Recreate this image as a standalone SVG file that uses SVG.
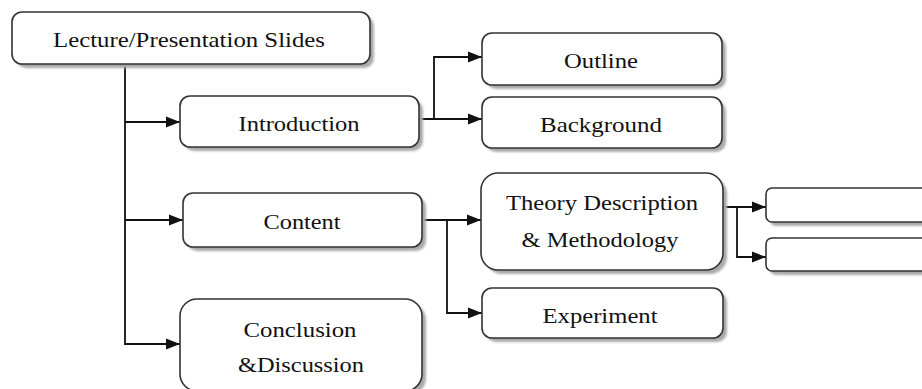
<svg xmlns="http://www.w3.org/2000/svg" width="922" height="389" viewBox="0 0 922 389">
<style>
.box{fill:#fff;stroke:#333;stroke-width:1.6}
.sh{fill:#aaa}
.t{font-family:"Liberation Serif","Times New Roman",serif;font-size:21px;fill:#111;text-anchor:middle}
.c{fill:none;stroke:#111;stroke-width:1.8}
</style>
<defs>
<marker id="ah" markerUnits="userSpaceOnUse" markerWidth="15" markerHeight="13" refX="14" refY="6.5" orient="auto">
<path d="M0,1 L14,6.5 L0,12 z" fill="#111"/>
</marker>
<filter id="blur" x="-10%" y="-10%" width="120%" height="130%"><feGaussianBlur stdDeviation="1"/></filter>
</defs>
<rect width="922" height="389" fill="#fff"/>
<g id="connectors">
<path class="c" d="M125,64 V344 H180" marker-end="url(#ah)"/>
<path class="c" d="M125,122 H180" marker-end="url(#ah)"/>
<path class="c" d="M125,220 H183" marker-end="url(#ah)"/>
<path class="c" d="M419,119 H482" marker-end="url(#ah)"/>
<path class="c" d="M434,119 V57 H482" marker-end="url(#ah)"/>
<path class="c" d="M422,220 H481" marker-end="url(#ah)"/>
<path class="c" d="M447,220 V313 H482" marker-end="url(#ah)"/>
<path class="c" d="M723,207 H766" marker-end="url(#ah)"/>
<path class="c" d="M737,207 V257 H766" marker-end="url(#ah)"/>
</g>
<g id="root">
<rect class="sh" x="16" y="16" width="358" height="52" rx="10" filter="url(#blur)"/>
<rect class="box" x="12" y="12" width="358" height="52" rx="10"/>
<text class="t" x="189" y="47" textLength="272" lengthAdjust="spacingAndGlyphs">Lecture/Presentation Slides</text>
</g>
<g id="introduction">
<rect class="sh" x="184" y="100" width="239" height="51" rx="10" filter="url(#blur)"/>
<rect class="box" x="180" y="96" width="239" height="51" rx="10"/>
<text class="t" x="299" y="131" textLength="121" lengthAdjust="spacingAndGlyphs">Introduction</text>
</g>
<g id="outline">
<rect class="sh" x="486" y="37" width="240" height="52" rx="10" filter="url(#blur)"/>
<rect class="box" x="482" y="33" width="240" height="52" rx="10"/>
<text class="t" x="601" y="68" textLength="74" lengthAdjust="spacingAndGlyphs">Outline</text>
</g>
<g id="background">
<rect class="sh" x="486" y="101" width="240" height="51" rx="10" filter="url(#blur)"/>
<rect class="box" x="482" y="97" width="240" height="51" rx="10"/>
<text class="t" x="601" y="132" textLength="122" lengthAdjust="spacingAndGlyphs">Background</text>
</g>
<g id="content">
<rect class="sh" x="187" y="197" width="239" height="54" rx="10" filter="url(#blur)"/>
<rect class="box" x="183" y="193" width="239" height="54" rx="10"/>
<text class="t" x="302" y="229" textLength="77" lengthAdjust="spacingAndGlyphs">Content</text>
</g>
<g id="theory">
<rect class="sh" x="485" y="177" width="242" height="97" rx="17" filter="url(#blur)"/>
<rect class="box" x="481" y="173" width="242" height="97" rx="17"/>
<text class="t" x="602" y="210" textLength="192" lengthAdjust="spacingAndGlyphs">Theory Description</text>
<text class="t" x="600" y="247" textLength="157" lengthAdjust="spacingAndGlyphs">&amp; Methodology</text>
</g>
<g id="experiment">
<rect class="sh" x="486" y="292" width="241" height="50" rx="10" filter="url(#blur)"/>
<rect class="box" x="482" y="288" width="241" height="50" rx="10"/>
<text class="t" x="600" y="323" textLength="115" lengthAdjust="spacingAndGlyphs">Experiment</text>
</g>
<g id="conclusion">
<rect class="sh" x="184" y="303" width="242" height="92" rx="17" filter="url(#blur)"/>
<rect class="box" x="180" y="299" width="242" height="92" rx="17"/>
<text class="t" x="300" y="337" textLength="113" lengthAdjust="spacingAndGlyphs">Conclusion</text>
<text class="t" x="301" y="372" textLength="126" lengthAdjust="spacingAndGlyphs">&amp;Discussion</text>
</g>
<g id="sub1">
<rect class="sh" x="770" y="192" width="170" height="34" rx="6" filter="url(#blur)"/>
<rect class="box" x="766" y="188" width="170" height="34" rx="6"/>
</g>
<g id="sub2">
<rect class="sh" x="770" y="242" width="170" height="33" rx="6" filter="url(#blur)"/>
<rect class="box" x="766" y="238" width="170" height="33" rx="6"/>
</g>
</svg>
